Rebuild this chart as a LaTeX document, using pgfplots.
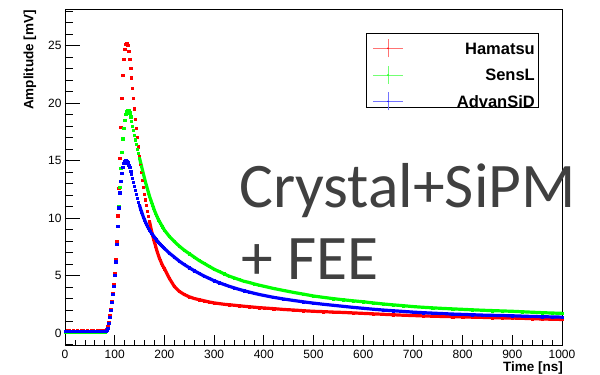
\documentclass[border=0pt]{standalone}
\usepackage{fontspec}
\setmainfont{Liberation Sans}
\newfontfamily\calibri{Carlito}
\usepackage{pgfplots}
\pgfplotsset{compat=1.18}
\usepackage{pgfplotstable}

\pgfplotstableread{
t r g b
0 0.18 0.10 0.14
4 0.22 0.08 0.16
8 0.20 0.12 0.13
12 0.17 0.09 0.15
16 0.21 0.11 0.17
20 0.19 0.07 0.14
24 0.23 0.10 0.16
28 0.18 0.12 0.13
32 0.20 0.09 0.15
36 0.22 0.11 0.17
40 0.17 0.08 0.14
44 0.21 0.10 0.16
48 0.19 0.12 0.13
52 0.20 0.09 0.15
56 0.22 0.11 0.16
60 0.18 0.08 0.14
64 0.21 0.10 0.15
68 0.19 0.12 0.17
72 0.20 0.09 0.14
76 0.22 0.11 0.16
80 0.21 0.12 0.17
82 0.24 0.15 0.19
84 0.32 0.22 0.25
86 0.55 0.45 0.45
88 0.95 0.85 0.85
90 1.50 1.40 1.40
92 2.10 2.00 2.00
94 2.75 2.65 2.65
96 3.45 3.35 3.35
98 4.25 4.10 4.10
100 5.15 5.00 5.00
102 6.45 6.20 6.20
104 8.00 7.70 7.70
106 10.2 9.30 9.30
108 12.6 11.0 10.9
110 15.2 12.7 12.2
112 17.9 14.3 13.2
114 20.4 15.7 13.9
116 22.4 16.9 14.4
118 23.8 17.8 14.75
120 24.7 18.5 14.95
122 25.1 19.0 15.0
124 25.2 19.3 14.95
126 25.0 19.4 14.8
128 24.5 19.35 14.6
130 23.8 19.15 14.4
132 23.0 18.8 14.1
134 22.2 18.4 13.8
136 21.3 18.0 13.45
138 20.4 17.6 13.1
140 19.5 17.2 12.75
142 18.6 16.8 12.4
144 17.8 16.4 12.05
146 17.0 16.0 11.7
148 16.2 15.6 11.4
150 15.4 15.2 11.1
152 14.7 14.85 10.8
154 14.0 14.5 10.55
156 13.3 14.15 10.3
158 12.7 13.8 10.05
160 12.1 13.45 9.85
162 11.6 13.1 9.65
164 11.1 12.8 9.45
166 10.6 12.5 9.28
168 10.15 12.2 9.12
170 9.7 11.9 8.97
172 9.3 11.65 8.83
174 8.9 11.4 8.7
176 8.55 11.15 8.57
178 8.2 10.9 8.45
180 7.9 10.65 8.33
182 7.6 10.45 8.22
184 7.3 10.25 8.11
186 7.0 10.05 8.0
188 6.75 9.85 7.9
190 6.5 9.7 7.8
192 6.3 9.55 7.7
194 6.1 9.4 7.61
196 5.9 9.25 7.52
198 5.75 9.1 7.43
200 5.6 8.95 7.35
210 4.75 8.4 6.95
220 4.05 7.95 6.6
230 3.62 7.55 6.25
240 3.35 7.2 5.95
250 3.15 6.9 5.68
260 3.0 6.6 5.42
270 2.9 6.3 5.18
280 2.8 6.05 4.95
290 2.7 5.8 4.75
300 2.62 5.55 4.55
310 2.56 5.35 4.38
320 2.5 5.15 4.22
330 2.46 4.95 4.07
340 2.42 4.8 3.93
350 2.37 4.65 3.8
360 2.33 4.5 3.68
370 2.29 4.4 3.57
380 2.25 4.28 3.46
390 2.21 4.17 3.36
400 2.18 4.07 3.27
420 2.12 3.87 3.1
440 2.05 3.7 2.96
460 2.0 3.53 2.83
480 1.94 3.38 2.71
500 1.89 3.22 2.6
520 1.86 3.1 2.5
540 1.82 2.99 2.41
560 1.79 2.89 2.32
580 1.75 2.8 2.23
600 1.71 2.72 2.15
620 1.67 2.62 2.07
640 1.63 2.53 2.0
660 1.59 2.45 1.94
680 1.55 2.38 1.88
700 1.52 2.3 1.82
720 1.49 2.24 1.77
740 1.46 2.19 1.73
760 1.44 2.14 1.69
780 1.42 2.1 1.65
800 1.4 2.06 1.62
820 1.38 2.02 1.59
840 1.36 1.98 1.56
860 1.34 1.95 1.54
880 1.32 1.92 1.52
900 1.3 1.89 1.5
920 1.28 1.85 1.47
940 1.25 1.81 1.44
960 1.22 1.77 1.42
980 1.2 1.74 1.4
1000 1.18 1.71 1.38
}\data

\pgfplotsset{
  commonaxis/.style={
    at={(0pt,0pt)}, anchor=south west,
    width=497pt, height=336pt, scale only axis,
    xmin=0, xmax=1000, ymin=-1.04, ymax=28.17,
    tick align=inside, tick pos=left,
    tick style={black, line width=0.7pt},
    axis line style={line width=0.7pt},
    /pgf/number format/assume math mode=true,
    /pgf/number format/1000 sep={},
    ticklabel style={font=\fontsize{12}{14}\selectfont},
  }
}

\begin{document}
\begin{tikzpicture}
\path[use as bounding box] (-65pt,-30pt) rectangle (535pt,345pt);
% x ticks, tick labels and x title
\begin{axis}[commonaxis,
  xtick={0,100,...,1000}, minor xtick={0,20,...,1000},
  ytick=\empty, minor ytick={},
  major tick length=10pt, minor tick length=5pt,
  xticklabel style={yshift=-2pt},
  xlabel={\bfseries Time [ns]},
  xlabel style={at={(axis description cs:1,0)}, anchor=base east, inner sep=0pt, yshift=-26.7pt, xshift=1pt, font=\fontsize{13.5}{15}\selectfont},
]
\end{axis}
% data, y ticks
\begin{axis}[commonaxis,
  xtick=\empty, minor xtick={},
  ytick={0,5,...,25}, minor ytick={-1,0,...,28},
  major tick length=15pt, minor tick length=7.5pt,
  ylabel={\bfseries Amplitude [mV]},
  ylabel style={at={(axis description cs:-0.0704,0.997)}, anchor=east, inner sep=0pt, font=\fontsize{13.5}{15}\selectfont},
]
\addplot[only marks, mark=square*, mark size=1.1pt, color=red] table[x=t, y=r] {\data};
\addplot[no marks, line width=3.2pt, color=red, restrict x to domain=170:1000] table[x=t, y=r] {\data};
\addplot[only marks, mark=square*, mark size=1.1pt, color=green] table[x=t, y=g] {\data};
\addplot[no marks, line width=3.2pt, color=green, restrict x to domain=150:1000] table[x=t, y=g] {\data};
\addplot[only marks, mark=square*, mark size=1.1pt, color=blue] table[x=t, y=b] {\data};
\addplot[no marks, line width=3.2pt, color=blue, restrict x to domain=150:1000] table[x=t, y=b] {\data};
\end{axis}
% legend
\draw[black, line width=0.7pt, fill=white] (301.7pt,237.3pt) rectangle (473.7pt,311.7pt);
\foreach \yc/\col/\name in {296.7/red/Hamatsu, 270/green/SensL, 243.6/blue/AdvanSiD}{
  \draw[\col!55, line width=0.8pt] (308pt,\yc pt) -- (338pt,\yc pt);
  \draw[\col!55, line width=0.8pt] (323pt,\yc pt-9pt) -- (323pt,\yc pt+9pt);
  \fill[\col] (323pt,\yc pt) circle (0.8pt);
  \node[anchor=base east, inner sep=0pt, font=\bfseries\fontsize{16.5}{18}\selectfont] at (470pt,\yc pt-5.9pt) {\name};
}
\node[anchor=base west, inner sep=0pt, text=black!75, font=\calibri\fontsize{63.5}{70}\selectfont] at (174pt,137pt) {Crystal+SiPM};
\node[anchor=base west, inner sep=0pt, text=black!75, font=\calibri\fontsize{63.5}{70}\selectfont] at (176pt,65pt) {+ FEE};
\end{tikzpicture}
\end{document}
